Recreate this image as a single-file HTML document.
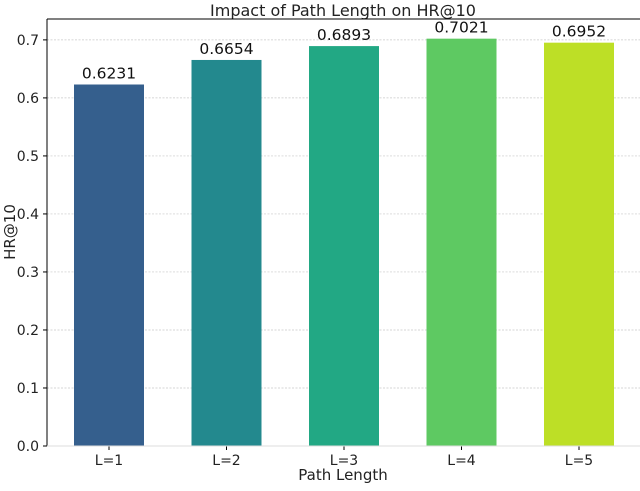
<!DOCTYPE html>
<html><head><meta charset="utf-8"><style>
body{margin:0;background:#fff;}
text{font-family:"DejaVu Sans","Liberation Sans",sans-serif;}
</style></head><body>
<svg id="chart" width="640" height="486" xmlns="http://www.w3.org/2000/svg">
<text x="343" y="16" font-size="16" text-anchor="middle" fill="#222">Impact of Path Length on HR@10</text>
<g id="grid"></g><g id="bars"></g><g id="axes"></g>
<text x="343" y="480" font-size="15" text-anchor="middle" fill="#222">Path Length</text>
<text transform="translate(15,232) rotate(-90)" font-size="15" text-anchor="middle" fill="#222">HR@10</text>
</svg>
<script>
const categories=["L=1","L=2","L=3","L=4","L=5"];
const values=[0.6231,0.6654,0.6893,0.7021,0.6952];
const valueLabels=["0.6231","0.6654","0.6893","0.7021","0.6952"];
const yTicks=[0,0.1,0.2,0.3,0.4,0.5,0.6,0.7];
const colors=["#355f8d","#23898e","#22a884","#5ec962","#bddf26"];
const NS="http://www.w3.org/2000/svg";
const L=47,R=640,T=19,B=446,yMax=0.736;
const y=v=>B-(v/yMax)*(B-T);
const step=117.5, x=i=>109+i*step, bw=70;
function mk(t,a,p){const e=document.createElementNS(NS,t);for(const k in a)e.setAttribute(k,a[k]);p.appendChild(e);return e;}
const grid=document.getElementById('grid'),bars=document.getElementById('bars'),axes=document.getElementById('axes');
yTicks.forEach(v=>{
  const g=mk('line',{x1:L,x2:R,y1:y(v),y2:y(v),stroke:'#c8c8c8','stroke-dasharray':'2,1.5','stroke-width':0.7},grid);
  
  
  mk('line',{x1:L-4,x2:L,y1:y(v),y2:y(v),stroke:'#000'},axes);
  const t=mk('text',{x:L-8,y:y(v)+5,'font-size':14,'text-anchor':'end',fill:'#222'},axes);
  t.textContent=v.toFixed(1);
  
  
});
values.forEach((v,i)=>{
  const r=mk('rect',{x:x(i)-bw/2,y:y(v),width:bw,height:B-y(v),fill:colors[i]},bars);
  
  
  const t=mk('text',{x:x(i),y:y(v)-6,'font-size':15.5,'text-anchor':'middle',fill:'#111'},bars);
  t.textContent=valueLabels[i];
  
  
  mk('line',{x1:x(i),x2:x(i),y1:B,y2:B+4,stroke:'#000'},axes);
  const c=mk('text',{x:x(i),y:B+19,'font-size':14,'text-anchor':'middle',fill:'#222'},axes);
  c.textContent=categories[i];
  
  
});
mk('line',{x1:L,x2:L,y1:T,y2:B,stroke:'#000','stroke-width':1},axes);
mk('line',{x1:L,x2:R,y1:T,y2:T,stroke:'#000','stroke-width':1},axes);
mk('line',{x1:L,x2:R,y1:B,y2:B,stroke:'#ddd','stroke-width':1},axes);
</script>
</body></html>
